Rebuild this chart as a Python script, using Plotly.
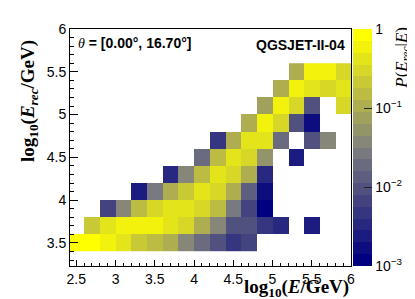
import numpy as np
import plotly.graph_objects as go

# ---------------- data ----------------
# bin centres of log10(E/GeV) (x) and log10(E_rec/GeV) (y)
log_e_true = [2.5, 2.7, 2.9, 3.1, 3.3, 3.5, 3.7, 3.9, 4.1, 4.3,
              4.5, 4.7, 4.9, 5.1, 5.3, 5.5, 5.7, 5.9]
log_e_rec = [3.5, 3.7, 3.9, 4.1, 4.3, 4.5, 4.7, 4.9, 5.1, 5.3, 5.5]

N = None
# P(E_rec | E), one list per reconstructed-energy row (bottom to top)
p_row_35 = [0.84, 0.84, 0.60, 0.42, 0.21, 0.15, 0.106, 0.038, 0.019, 0.0094, 0.0047, 0.0067, N, N, N, N, N, N]
p_row_37 = [N, 0.21, 0.42, 0.60, 0.60, 0.60, 0.42, 0.30, 0.106, 0.038, 0.0094, 0.0094, 0.0047, 0.0033, N, 0.0024, N, N]
p_row_39 = [N, N, 0.0067, 0.038, 0.15, 0.30, 0.42, 0.42, 0.30, 0.15, 0.027, 0.0067, 0.0012, N, N, N, N, N]
p_row_41 = [N, N, N, N, 0.0024, 0.027, 0.106, 0.21, 0.42, 0.30, 0.106, 0.013, 0.0017, N, N, N, N, N]
p_row_43 = [N, N, N, N, N, N, 0.0033, 0.038, 0.15, 0.42, 0.30, 0.106, 0.0033, N, N, N, N, N]
p_row_45 = [N, N, N, N, N, N, N, N, 0.019, 0.15, 0.42, 0.30, 0.053, N, 0.0024, N, N, N]
p_row_47 = [N, N, N, N, N, N, N, N, N, 0.0047, 0.106, 0.42, 0.42, 0.019, N, 0.0094, 0.038, N]
p_row_49 = [N, N, N, N, N, N, N, N, N, N, N, 0.106, 0.60, 0.30, 0.0094, 0.0017, N, N]
p_row_51 = [N, N, N, N, N, N, N, N, N, N, N, N, 0.075, 0.60, 0.30, 0.0094, N, 0.30]
p_row_53 = [N, N, N, N, N, N, N, N, N, N, N, N, N, 0.106, 0.60, 0.42, 0.30, 0.42]
p_row_55 = [N, N, N, N, N, N, N, N, N, N, N, N, N, N, 0.106, 0.60, 0.60, 0.30]

rows = [p_row_35, p_row_37, p_row_39, p_row_41, p_row_43, p_row_45,
        p_row_47, p_row_49, p_row_51, p_row_53, p_row_55]

x_ticks = [2.5, 3, 3.5, 4, 4.5, 5, 5.5, 6]
y_ticks = [3.5, 4, 4.5, 5, 5.5, 6]
cb_tickvals = [-3, -2, -1, 0]
cb_ticktext = ["10<sup>\u22123</sup>", "10<sup>\u22122</sup>", "10<sup>\u22121</sup>", "1"]

# ---------------- styling ----------------
W, H = 415, 299
L, R, T, B = 62, 65, 21, 41
PW, PH = W - L - R, H - T - B


def px(xpix):
    return (xpix - L) / PW


def py(ypix):
    return (H - B - ypix) / PH


def pal(t):
    r = round(255 * t)
    b = round(127.5) if t <= 0.5 else round(255 * (1 - t))
    return f"rgb({r},{r},{b})"


NB = 20
cscale = []
for k in range(NB):
    c = pal(k / (NB - 1))
    cscale.append([k / NB, c])
    cscale.append([(k + 1) / NB, c])

z = [[(np.log10(v) if v is not None else None) for v in row] for row in rows]

SANS = "Liberation Sans, Arial, sans-serif"
SERIF = "Liberation Serif, Times New Roman, serif"

fig = go.Figure()
fig.add_trace(go.Heatmap(
    x=log_e_true, y=log_e_rec, z=z,
    zmin=-3, zmax=0, colorscale=cscale, hoverongaps=False,
    colorbar=dict(
        x=px(352), xanchor="left", xpad=0, y=0, yanchor="bottom", ypad=0,
        len=1, lenmode="fraction", thickness=19, thicknessmode="pixels",
        outlinewidth=0, ticks="inside", ticklen=8, tickcolor="#222",
        tickvals=cb_tickvals, ticktext=cb_ticktext,
        tickfont=dict(family=SANS, size=14, color="black"),
    ),
))

axis_common = dict(showline=True, linecolor="black", linewidth=1, mirror=True,
                   showgrid=False, zeroline=False, ticks="inside",
                   tickcolor="black", tickfont=dict(family=SANS, size=14, color="black"))

fig.update_xaxes(range=[2.42, 6.0], tickvals=x_ticks, ticklen=6,
                 minor=dict(dtick=0.1, ticks="inside", ticklen=3, tickcolor="black"),
                 **axis_common)
fig.update_yaxes(range=[3.23, 6.0], tickvals=y_ticks, ticklen=8,
                 minor=dict(dtick=0.1, ticks="inside", ticklen=4, tickcolor="black"),
                 **axis_common)

shapes = []
# minor ticks on the colour bar
cb_right = px(371)
for d in (-3, -2, -1):
    for m in range(2, 10):
        yv = (np.log10(m) + d + 3) / 3
        shapes.append(dict(type="line", xref="paper", yref="paper",
                           x0=cb_right, x1=cb_right - 4 / PW, y0=yv, y1=yv,
                           line=dict(color="#222", width=1)))

annotations = [
    dict(text="<span style='font-family:Liberation Serif'><i>\u03b8</i></span><b> = [0.00\u00b0, 16.70\u00b0]</b>",
         x=px(68), y=py(35), xref="paper", yref="paper", xanchor="left", yanchor="middle",
         showarrow=False, font=dict(family=SANS, size=14, color="black")),
    dict(text="<b>QGSJET-II-04</b>",
         x=px(346), y=py(37), xref="paper", yref="paper", xanchor="right", yanchor="middle",
         showarrow=False, font=dict(family=SANS, size=14, color="black")),
    dict(text="<b>log<sub>10</sub>(<i>E</i>/GeV)</b>",
         x=px(350), y=py(280), xref="paper", yref="paper", xanchor="right", yanchor="middle",
         showarrow=False, font=dict(family=SERIF, size=19, color="black")),
    dict(text="<b>log<sub>10</sub>(<i>E<sub>rec</sub></i>/GeV)</b>",
         x=px(20), y=py(93), xref="paper", yref="paper", xanchor="center", yanchor="middle",
         textangle=-90, showarrow=False, font=dict(family=SERIF, size=19, color="black")),
    dict(text="<i>P</i>(<i>E<sub>rec</sub></i>|<i>E</i>)",
         x=px(403), y=py(50), xref="paper", yref="paper", xanchor="center", yanchor="middle",
         textangle=-90, showarrow=False, font=dict(family=SERIF, size=17, color="black")),
]

fig.update_layout(
    width=W, height=H, margin=dict(l=L, r=R, t=T, b=B),
    paper_bgcolor="white", plot_bgcolor="white",
    shapes=shapes, annotations=annotations, showlegend=False,
)

fig.write_html("out.html")
